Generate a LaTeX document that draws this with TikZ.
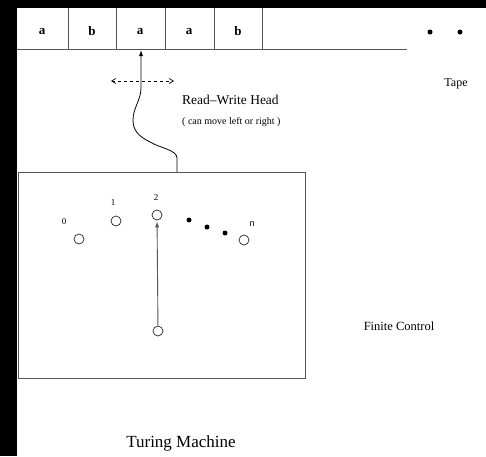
\documentclass[tikz,border=0pt]{standalone}
\usepackage{fontspec}
\setmainfont{Liberation Serif}
\newfontfamily\labsans{Liberation Sans}
\usetikzlibrary{arrows.meta}
\definecolor{ln}{HTML}{555555}
\tikzset{
  state/.style={circle, draw=black!85, line width=0.7pt, minimum size=10pt, inner sep=0pt},
  sym/.style={font=\bfseries\fontsize{13}{13}\selectfont, inner sep=0pt},
  lab/.style={font=\fontsize{9}{9}\selectfont, inner sep=0pt},
  dotn/.style={circle, fill=black, minimum size=5pt, inner sep=0pt},
  gline/.style={draw=ln, line width=0.9pt}
}
\begin{document}
\begin{tikzpicture}[x=1pt,y=-1pt]
\useasboundingbox (0,0) rectangle (486,456);
\fill[white] (0,0) rectangle (486,456);
\fill[black] (0,0) rectangle (486,8);
\fill[black] (0,0) rectangle (17,456);
% tape
\draw[gline] (17,49) -- (407,49);
\foreach \x in {68,116,165,214,262} \draw[gline] (\x,8) -- (\x,49);
\node[sym] (t1) at (42,32) {a};
\node[sym] (t2) at (92,31) {b};
\node[sym] (t3) at (140,32) {a};
\node[sym] (t4) at (189,32) {a};
\node[sym] (t5) at (238,31) {b};
\node[dotn] (td1) at (430,32) {};
\node[dotn] (td2) at (460,32) {};
\node[font=\fontsize{12}{12}\selectfont, inner sep=0pt] (tape) at (456,84) {Tape};
% head
\coordinate (headtip) at (141,50);
\coordinate (boxtop) at (177,172);
\draw[line width=0.8pt, -{Latex[length=6pt,width=4pt]}] (boxtop) -- (177,158)
  .. controls (177,150) and (160,148) .. (150,142)
  .. controls (138,136) and (133,130) .. (133,120)
  .. controls (133,108) and (141,100) .. (141,88) -- (headtip);
\coordinate (dl) at (111,81);
\coordinate (dr) at (174,81);
\draw[line width=0.7pt, dashed, {Straight Barb[length=4pt,width=5pt]}-{Straight Barb[length=4pt,width=5pt]}] (dl) -- (dr);
\node[font=\fontsize{13.5}{13.5}\selectfont, inner sep=0pt, anchor=west] (rw) at (182,100) {Read--Write Head};
\node[font=\fontsize{10}{10}\selectfont, inner sep=0pt, anchor=west] (rw2) at (182,122) {( can move left or right )};
% finite control
\node[draw=ln, line width=0.9pt, minimum width=287pt, minimum height=206pt, anchor=north west, inner sep=0pt] (fc) at (18,172) {};
\node[state] (q0) at (79,239) {};
\node[state] (q1) at (116,221) {};
\node[state] (q2) at (157,215) {};
\node[state] (qn) at (244,240) {};
\node[state] (qb) at (158,331) {};
\node[lab] (l0) at (64,222) {0};
\node[lab] (l1) at (113,203) {1};
\node[lab] (l2) at (156,198) {2};
\node[lab, font=\labsans\fontsize{9}{9}\selectfont] (lbn) at (252,224) {n};
\node[dotn] (d1) at (189,220) {};
\node[dotn] (d2) at (207,227) {};
\node[dotn] (d3) at (225,233) {};
\draw[draw=ln, line width=0.9pt, -{Latex[length=6pt,width=4pt]}, shorten >=1pt] (qb) -- (q2);
\node[font=\fontsize{12.5}{12.5}\selectfont, inner sep=0pt] (fcl) at (399,326) {Finite Control};
\node[font=\fontsize{17}{17}\selectfont, inner sep=0pt] (tm) at (181,443) {Turing Machine};
\end{tikzpicture}
\end{document}
